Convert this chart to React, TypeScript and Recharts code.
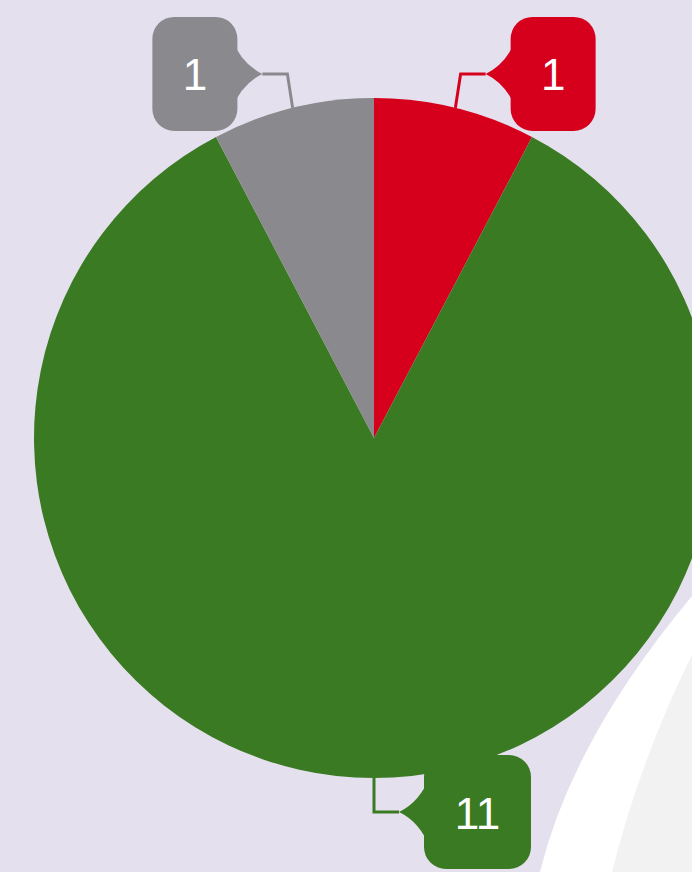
import { PieChart, Pie, Cell } from 'recharts'

const categories = ['Red', 'Green', 'Gray']
const values = [1, 11, 1]
const colors = ['#d6001c', '#3a7a22', '#8a898e']

const data = categories.map((name, i) => ({ name, value: values[i] }))

const RAD = Math.PI / 180

// callout bubble with an elbow connector, like the original labels
function renderCallout(props: any) {
  const { cx, cy, midAngle, outerRadius, value, index } = props
  const color = colors[index]
  const c = Math.cos(-midAngle * RAD)
  const s = Math.sin(-midAngle * RAD)
  const sx = cx + outerRadius * c
  const sy = cy + outerRadius * s
  const dirX = c < -0.01 ? -1 : 1
  const dirY = s < 0 ? -1 : 1
  const ex = sx + 22 * c
  const ey = sy + 34 * dirY
  const tx = ex + 25 * dirX
  const ty = ey
  const txt = String(value)
  const w = 63 + 22 * txt.length
  const h = 114
  const edge = tx + 25 * dirX
  const bx = dirX > 0 ? edge : edge - w
  const by = ty - h / 2
  const inner = edge + 6 * dirX
  return (
    <g key={`lbl-${index}`}>
      <polyline
        points={`${sx},${sy} ${ex},${ey} ${tx},${ty}`}
        fill="none"
        stroke={color}
        strokeWidth={3}
      />
      <rect x={bx} y={by} width={w} height={h} rx={22} ry={22} fill={color} />
      <path
        d={`M${tx},${ty} Q${edge - dirX * 4},${ty - 10} ${inner},${ty - 36} L${inner},${ty + 36} Q${edge - dirX * 4},${ty + 10} ${tx},${ty} Z`}
        fill={color}
      />
      <text
        x={bx + w / 2}
        y={ty + 1}
        fill="#ffffff"
        fontSize={44}
        fontFamily="'Liberation Sans', Arial, sans-serif"
        textAnchor="middle"
        dominantBaseline="central"
      >
        {txt}
      </text>
    </g>
  )
}

export default function App() {
  return (
    <div
      style={{
        position: 'absolute',
        left: 0,
        top: 0,
        width: 692,
        height: 872,
        background: '#e4e0ee',
        overflow: 'hidden',
      }}
    >
      {/* page-curl decoration behind the chart */}
      <svg width={692} height={872} style={{ position: 'absolute', left: 0, top: 0 }}>
        <path d="M540,872 Q572,740 692,596 L692,872 Z" fill="#ffffff" />
        <path d="M612,872 Q640,760 692,655 L692,872 Z" fill="#f2f2f3" />
      </svg>
      <div style={{ position: 'absolute', left: 0, top: 0 }}>
        <PieChart width={692} height={872} margin={{ top: 0, right: 0, bottom: 0, left: 0 }}>
          <Pie
            data={data}
            dataKey="value"
            nameKey="name"
            cx={374}
            cy={438}
            outerRadius={340}
            startAngle={90}
            endAngle={-270}
            stroke="none"
            label={renderCallout}
            labelLine={false}
            isAnimationActive={false}
          >
            {data.map((d, i) => (
              <Cell key={d.name} fill={colors[i]} />
            ))}
          </Pie>
        </PieChart>
      </div>
    </div>
  )
}
